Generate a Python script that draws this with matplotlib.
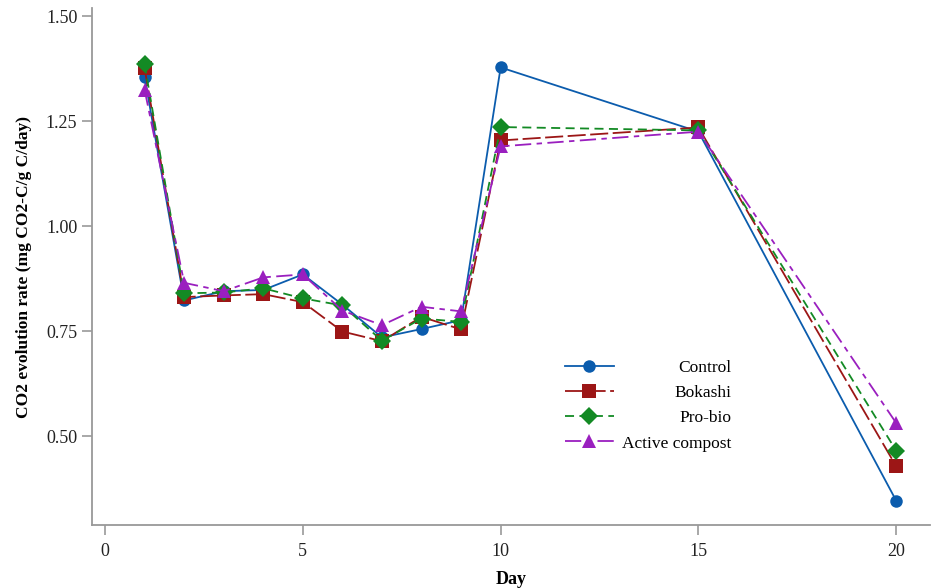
import numpy as np
import matplotlib.pyplot as plt
from matplotlib.transforms import Affine2D

plt.rcParams['font.family'] = ['Liberation Serif', 'DejaVu Serif']

# Sampling days and CO2 evolution rates per treatment
days = [1, 2, 3, 4, 5, 6, 7, 8, 9, 10, 15, 20]
control = [1.355, 0.823, 0.845, 0.848, 0.885, 0.813, 0.735, 0.755, 0.776, 1.378, 1.225, 0.346]
bokashi = [1.376, 0.831, 0.835, 0.838, 0.819, 0.749, 0.726, 0.784, 0.754, 1.204, 1.235, 0.428]
probio = [1.385, 0.840, 0.842, 0.852, 0.828, 0.811, 0.727, 0.780, 0.772, 1.236, 1.228, 0.465]
active = [1.325, 0.865, 0.845, 0.878, 0.885, 0.799, 0.764, 0.808, 0.797, 1.190, 1.225, 0.531]

labels = ['Control', 'Bokashi', 'Pro-bio', 'Active compost']
colors = ['#0b5cad', '#9c1616', '#138a24', '#9a1fbf']
markers = ['o', 's', 'D', '^']
msizes = [9, 10, 9.5, 10.5]
styles = ['-', (0, (10, 2.5)), (0, (5, 3)), (0, (9, 3, 3, 3))]

fig = plt.figure(figsize=(9.32, 5.88), dpi=100)
ax = fig.add_axes([0.0987, 0.107, 0.899, 0.879])

for ys, lab, c, m, ms, ls in zip([control, bokashi, probio, active], labels, colors, markers, msizes, styles):
    ax.plot(days, ys, color=c, marker=m, markersize=ms, linestyle=ls, linewidth=1.3,
            label=lab, markeredgewidth=0)

ax.set_xlim(-0.33, 20.85)
ax.set_ylim(0.288, 1.519)
ax.set_xticks([0, 5, 10, 15, 20])
ax.set_yticks([0.50, 0.75, 1.00, 1.25, 1.50])
ax.set_yticklabels(['0.50', '0.75', '1.00', '1.25', '1.50'])

for s in ['top', 'right']:
    ax.spines[s].set_visible(False)
for s in ['left', 'bottom']:
    ax.spines[s].set_color('#999999')
    ax.spines[s].set_linewidth(1.3)
ax.tick_params(direction='out', length=7, width=1.2, color='#999999',
               labelsize=13, labelcolor='#222222')
ax.tick_params(axis='x', pad=6)

ax.set_xlabel('Day', fontsize=13, fontweight='bold', labelpad=8)
ax.set_ylabel('CO2 evolution rate (mg CO2-C/g C/day)', fontsize=12.5, fontweight='bold', labelpad=10)

leg = ax.legend(loc='upper left', bbox_to_anchor=(0.546, 0.35), frameon=False,
                fontsize=12.5, handlelength=2.8, handletextpad=0.5, labelspacing=0.52)

# right-align the legend labels
fig.canvas.draw()
r = fig.canvas.get_renderer()
texts = leg.get_texts()
widths = [t.get_window_extent(r).width for t in texts]
wmax = max(widths)
for t, w in zip(texts, widths):
    t.set_transform(t.get_transform() + Affine2D().translate(wmax - w, 0))

fig.savefig('out.png', dpi=100)
